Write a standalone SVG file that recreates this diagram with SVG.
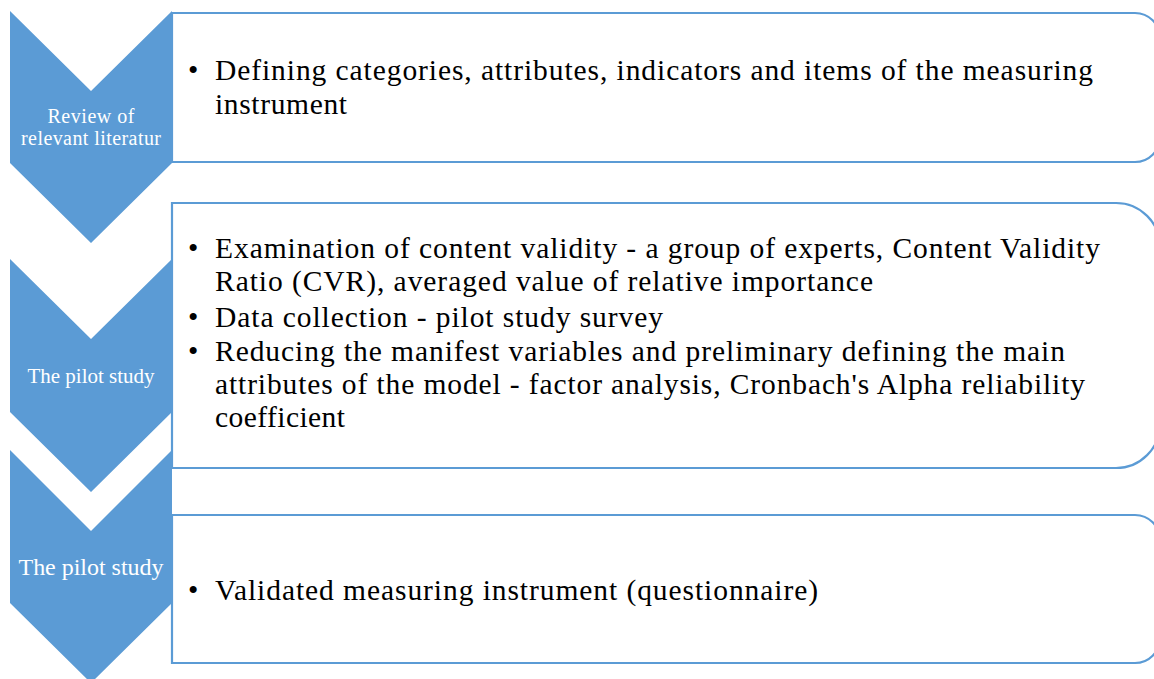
<svg xmlns="http://www.w3.org/2000/svg" width="1154" height="679" viewBox="0 0 1154 679">
<style>
.chev{fill:#5B9BD5;stroke:none}
.box{fill:#FFFFFF;stroke:#5B9BD5;stroke-width:2.2}
.ct{font-family:"Liberation Serif","Times New Roman",serif;fill:#FFFFFF;text-anchor:middle}
.bt{font-family:"Liberation Serif","Times New Roman",serif;font-size:29.5px;fill:#000000}
.bu{font-family:"Liberation Serif","Times New Roman",serif;font-size:29.5px;fill:#000000}
</style>
<rect width="1154" height="679" fill="#FFFFFF"/>
<g id="step1">
<path class="chev" d="M10,11 L91,91 L172,11 L172,163 L91,243 L10,163 Z"/>
<text class="ct" font-size="20" x="91" y="123" textLength="87" lengthAdjust="spacing">Review of</text>
<text class="ct" font-size="20" x="91" y="145" textLength="140" lengthAdjust="spacing">relevant literatur</text>
</g>
<g id="step2">
<path class="chev" d="M10,259 L91,339 L172,259 L172,412 L91,492 L10,412 Z"/>
<text class="ct" font-size="21" x="91" y="383" textLength="127" lengthAdjust="spacing">The pilot study</text>
</g>
<g id="step3">
<path class="chev" d="M10,450 L91,531 L172,450 L172,603 L91,683 L10,603 Z"/>
<text class="ct" font-size="24" x="91" y="575" textLength="145" lengthAdjust="spacing">The pilot study</text>
</g>
<g id="detail1">
<path class="box" d="M172,13 H1135 A25,25 0 0 1 1160,38 V137 A25,25 0 0 1 1135,162 H172 Z"/>
<text class="bu" x="188" y="80">•</text>
<text class="bt" x="215" y="80" textLength="878" lengthAdjust="spacing">Defining categories, attributes, indicators and items of the measuring</text>
<text class="bt" x="215" y="114" textLength="132" lengthAdjust="spacing">instrument</text>
</g>
<g id="detail2">
<path class="box" d="M172,203 H1116 A44,44 0 0 1 1160,247 V424 A44,44 0 0 1 1116,468 H172 Z"/>
<text class="bu" x="188" y="258">•</text>
<text class="bt" x="215" y="258" textLength="885" lengthAdjust="spacing">Examination of content validity - a group of experts, Content Validity</text>
<text class="bt" x="215" y="291" textLength="658" lengthAdjust="spacing">Ratio (CVR), averaged value of relative importance</text>
<text class="bu" x="188" y="327">•</text>
<text class="bt" x="215" y="327" textLength="448" lengthAdjust="spacing">Data collection - pilot study survey</text>
<text class="bu" x="188" y="361">•</text>
<text class="bt" x="215" y="361" textLength="850" lengthAdjust="spacing">Reducing the manifest variables and preliminary defining the main</text>
<text class="bt" x="215" y="394" textLength="870" lengthAdjust="spacing">attributes of the model - factor analysis, Cronbach's Alpha reliability</text>
<text class="bt" x="215" y="427" textLength="130" lengthAdjust="spacing">coefficient</text>
</g>
<g id="detail3">
<path class="box" d="M172,515 H1135 A25,25 0 0 1 1160,540 V638 A25,25 0 0 1 1135,663 H172 Z"/>
<text class="bu" x="188" y="600">•</text>
<text class="bt" x="215" y="600" textLength="603" lengthAdjust="spacing">Validated measuring instrument (questionnaire)</text>
</g>
</svg>
